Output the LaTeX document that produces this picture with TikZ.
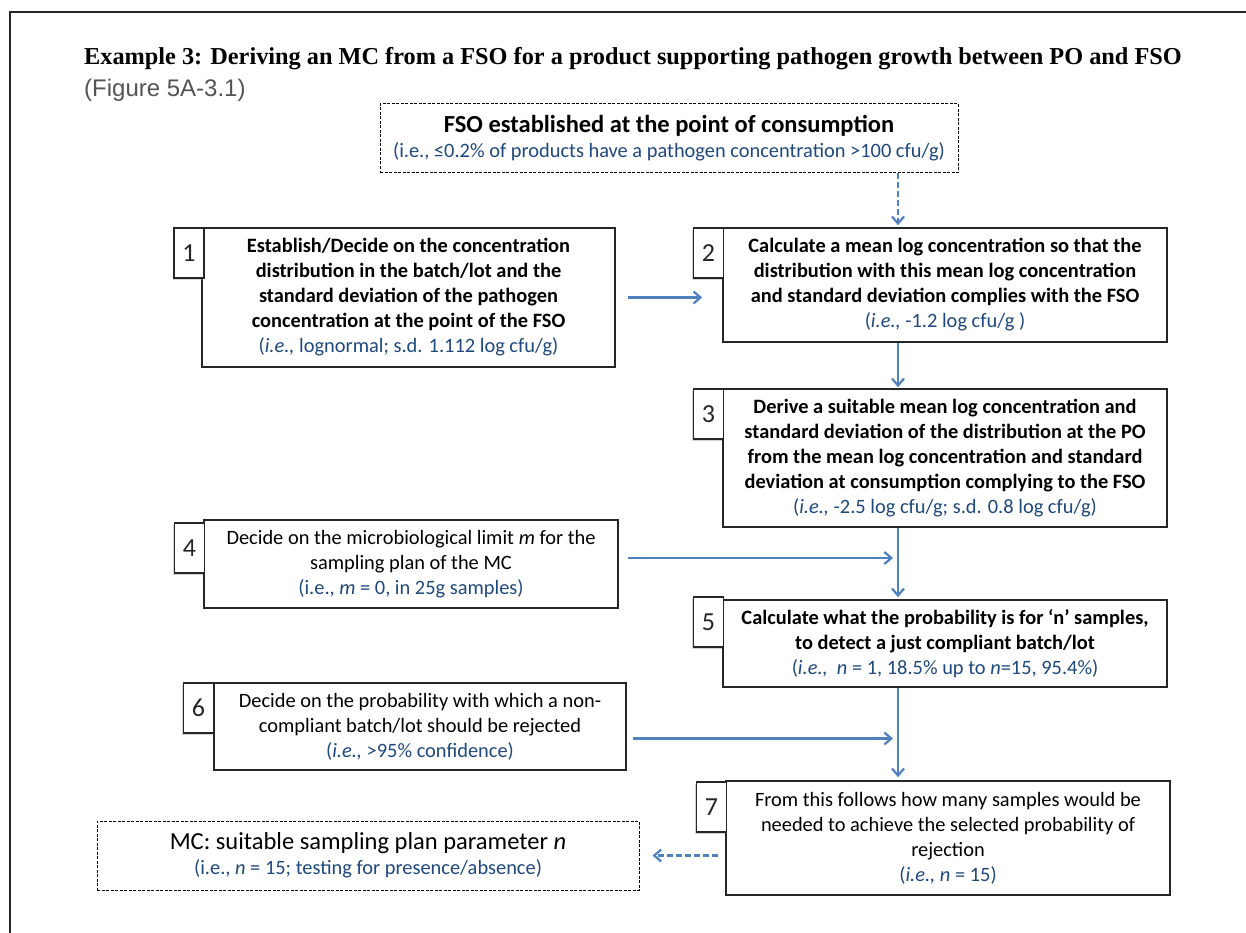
\documentclass[tikz,border=0pt]{standalone}
\usepackage{fontspec}
\setmainfont{Carlito}
\newfontfamily\headfont{Liberation Serif}
\newfontfamily\figfont{Liberation Sans}
\usetikzlibrary{arrows.meta,calc,shadows}
\definecolor{ArrowClr}{rgb}{0.31,0.506,0.741}
\definecolor{NoteClr}{rgb}{0.122,0.286,0.49}
\definecolor{LineClr}{rgb}{0.15,0.15,0.15}
\definecolor{FigClr}{rgb}{0.33,0.33,0.33}
\newcommand{\note}[1]{{\mdseries\color{NoteClr}#1}}

\begin{document}
\begin{tikzpicture}[x=1pt,y=-1pt,
  plainbox/.style={draw=LineClr,line width=1.6pt,fill=white,inner sep=0pt,align=center,
    font=\fontsize{20.4}{25}\selectfont},
  stepbox/.style={plainbox,font=\fontsize{20.4}{25}\selectfont\bfseries},
  dashbox/.style={plainbox,draw=black,line width=1pt,dash pattern=on 3pt off 1.5pt},
  tagbox/.style={draw=LineClr,line width=1.6pt,fill=white,inner sep=0pt,
    minimum width=30pt,minimum height=50pt,text=LineClr,font=\fontsize{26}{26}\selectfont,
    drop shadow={shadow xshift=-1.5pt,shadow yshift=-2pt,opacity=.35}},
  flow/.style={draw=ArrowClr,line width=2.2pt,-{Straight Barb[length=7pt,width=12pt]}},
  dashflow/.style={flow,dash pattern=on 6pt off 3pt}]

\useasboundingbox (0,0) rectangle (1246,933);
\fill[white] (0,0) rectangle (1246,933);
\draw[line width=2pt,LineClr] (10,933) -- (10,12) -- (1246,12);

\node[anchor=base west,inner sep=0pt,font=\headfont\bfseries\fontsize{24.3}{24}\selectfont] (Title) at (84,65)
  {Example 3: Deriving an MC from a FSO for a product supporting pathogen growth between PO and FSO};
\node[anchor=base west,inner sep=0pt,text=FigClr,font=\figfont\fontsize{24}{24}\selectfont] (Fig) at (84,97)
  {(Figure 5A-3.1)};

\node[dashbox,minimum width=578pt,minimum height=69pt] (FSO) at (669,138.5)
  {{\bfseries\fontsize{24.5}{25}\selectfont FSO established at the point of consumption}\\
   \note{(i.e., ≤0.2\% of products have a pathogen concentration >100 cfu/g)}};

\node[stepbox,minimum width=413pt,minimum height=139pt] (B1) at (408.5,297.5)
  {Establish/Decide on the concentration\\distribution in the batch/lot and the\\
   standard deviation of the pathogen\\concentration at the point of the FSO\\
   \note{(\textit{i.e.,} lognormal; s.d. 1.112 log cfu/g)}};
\node[stepbox,minimum width=444pt,minimum height=114pt] (B2) at (945,285)
  {Calculate a mean log concentration so that the\\distribution with this mean log concentration\\
   and standard deviation complies with the FSO\\\note{(\textit{i.e.,} -1.2 log cfu/g )}};
\node[stepbox,minimum width=444pt,minimum height=138pt] (B3) at (945,458)
  {Derive a suitable mean log concentration and\\standard deviation of the distribution at the PO\\
   from the mean log concentration and standard\\deviation at consumption complying to the FSO\\
   \note{(\textit{i.e.,} -2.5 log cfu/g; s.d. 0.8 log cfu/g)}};
\node[plainbox,minimum width=414pt,minimum height=88pt] (B4) at (411,564)
  {Decide on the microbiological limit \textit{m} for the\\sampling plan of the MC\\
   \note{(i.e., \textit{m} = 0, in 25g samples)}};
\node[stepbox,minimum width=444pt,minimum height=87pt] (B5) at (945,643.5)
  {Calculate what the probability is for ‘n’ samples,\\to detect a just compliant batch/lot\\
   \note{(\textit{i.e.,}\ \ \textit{n} = 1, 18.5\% up to \textit{n}=15, 95.4\%)}};
\node[plainbox,minimum width=412pt,minimum height=87pt] (B6) at (420,726.5)
  {Decide on the probability with which a non-\\compliant batch/lot should be rejected\\
   \note{(\textit{i.e.,} >95\% confidence)}};
\node[plainbox,minimum width=444pt,minimum height=114pt] (B7) at (948,838)
  {From this follows how many samples would be\\needed to achieve the selected probability of\\
   rejection\\\note{(\textit{i.e.,} \textit{n} = 15)}};
\node[dashbox,minimum width=542pt,minimum height=69pt] (MC) at (368,855.5)
  {{\fontsize{24.5}{25}\selectfont MC: suitable sampling plan parameter \textit{n}}\\
   \note{(i.e., \textit{n} = 15; testing for presence/absence)}};

\node[tagbox] (T1) at (189,253) {1};
\node[tagbox] (T2) at (708.5,253) {2};
\node[tagbox] (T3) at (708.5,414) {3};
\node[tagbox] (T4) at (189.5,548) {4};
\node[tagbox] (T5) at (708.5,622) {5};
\node[tagbox] (T6) at (198.5,708) {6};
\node[tagbox] (T7) at (711.5,807) {7};

\coordinate (Spine) at (898,0);
\path (B4.east) ++(0,-6) coordinate (A4);
\path (B6.east) ++(0,12) coordinate (A6);
\path (B7.west |- MC.east) coordinate (A7);

\draw[dashflow,shorten >=2pt] (FSO.south -| Spine) -- (B2.north -| Spine);
\draw[flow,shorten <=12pt,shorten >=20pt] (B1.east) -- (B1.east -| B2.west);
\draw[flow,shorten >=1pt] (B2.south -| Spine) -- (B3.north -| Spine);
\draw[flow,shorten >=2pt] (B3.south -| Spine) -- (B5.north -| Spine);
\draw[flow,shorten <=9pt,shorten >=5pt] (A4) -- (A4 -| Spine);
\draw[flow,shorten >=3pt] (B5.south -| Spine) -- (B7.north -| Spine);
\draw[flow,shorten <=6pt,shorten >=5pt] (A6) -- (A6 -| Spine);
\draw[dashflow,shorten <=7pt,shorten >=13pt] (A7) -- (MC.east);

\end{tikzpicture}
\end{document}
